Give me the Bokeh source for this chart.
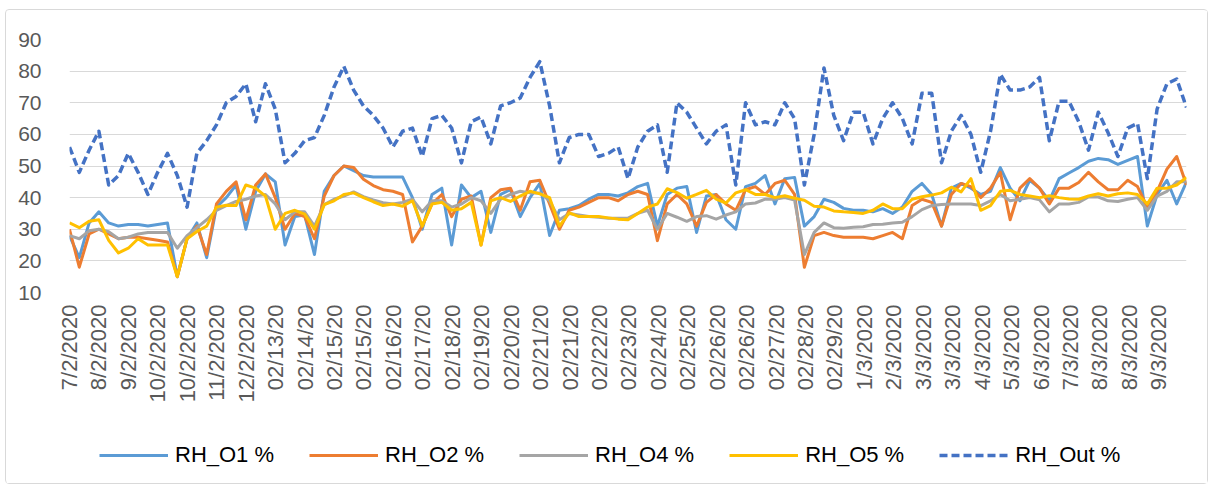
import math
import numpy as np
from bokeh.plotting import figure
from bokeh.layouts import column
from bokeh.models import FixedTicker, Legend, LegendItem, Range1d
from bokeh.embed import file_html
from bokeh.resources import INLINE

# x-axis category labels (one every N samples in the original workbook)
labels = ["7/2/2020", "8/2/2020", "9/2/2020", "10/2/2020", "10/2/2020", "11/2/2020",
          "12/2/2020", "02/13/20", "02/14/20", "02/15/20", "02/15/20", "02/16/20",
          "02/17/20", "02/18/20", "02/19/20", "02/20/20", "02/21/20", "02/21/20",
          "02/22/20", "02/23/20", "02/24/20", "02/25/20", "02/26/20", "02/26/20",
          "02/27/20", "02/28/20", "02/29/20", "1/3/2020", "2/3/2020", "3/3/2020",
          "3/3/2020", "4/3/2020", "5/3/2020", "6/3/2020", "7/3/2020", "8/3/2020",
          "8/3/2020", "9/3/2020"]

rh_o1 = [28, 21, 32, 35.5, 32, 31, 31.5, 31.5, 31, 31.5, 32, 15, 27, 32, 21, 37, 40, 44, 30, 42,
         47.5, 45, 25, 34, 34.5, 22, 42, 47, 50, 48.5, 47, 46.5, 46.5, 46.5, 46.5, 40, 30, 41, 43, 25,
         44, 40, 42, 29, 41, 42.5, 34, 40, 44.5, 28, 36, 36.5, 37.5, 39.5, 41, 41, 40.5, 41.5, 43.5, 44.5,
         31, 41, 43, 43.5, 29, 40.5, 41, 33, 30, 43.5, 44.5, 47, 38, 46, 46.4, 31, 34, 39.5, 38.5, 36.6,
         36, 36, 35.5, 36.5, 35, 37, 42, 44.5, 41, 31, 43, 44.5, 43, 41, 42, 49.5, 43, 39, 45.5, 43,
         39, 46, 47.8, 49.5, 51.5, 52.4, 52, 50.5, 51.8, 53, 31, 41, 45.5, 38, 45]

rh_o2 = [30, 18, 28.5, 30, 28.5, 27, 27.5, 27.5, 27, 26.5, 26, 15, 27, 31, 22, 38, 42, 45, 33, 44,
         47.5, 40, 30, 35, 34, 27, 40.5, 47, 50, 49.5, 45.8, 43.8, 42.5, 42, 41, 26, 31, 38, 41, 34,
         39.5, 40.5, 25, 40, 42.5, 43, 36, 45, 45.5, 38, 30, 36, 37, 38.5, 40, 40, 39, 41, 42, 41,
         26.4, 38, 41, 38, 31, 38.5, 41, 38, 36, 42.5, 43.5, 41, 44.5, 45.5, 41, 18, 28, 29, 28, 27.5,
         27.5, 27.5, 27, 28, 29, 27, 37.5, 39.5, 38.5, 31, 41, 44.5, 43.5, 40, 43, 48, 33, 43, 46, 43,
         38, 43, 43, 44.8, 48, 45, 42.5, 42.5, 45.5, 43.5, 37, 42, 49, 53, 44]

rh_o4 = [28, 27, 29.5, 30, 29.2, 27, 27.5, 28.5, 29, 29, 29, 24, 28, 30.5, 33, 36, 37.5, 38.8, 39.5, 40.5,
         41, 38, 33, 35.5, 35.5, 31, 37.8, 39.5, 40.5, 41.8, 40.3, 39.3, 38.4, 38, 38.5, 39.5, 35.5, 39, 39, 37,
         38, 40, 39, 35, 39.5, 41, 42, 41.5, 41.5, 39, 33, 35, 34.5, 34, 33.8, 33.5, 33.5, 33.5, 35, 36,
         30, 35, 33.8, 32.5, 34, 34.3, 33.2, 34.5, 35.5, 38, 38.3, 39.5, 39.5, 40, 39.2, 22, 29, 32, 30.5, 30.3,
         30.6, 30.8, 31.5, 31.6, 32, 32.2, 34, 36.2, 37.5, 37.8, 38, 38, 38, 37.5, 39, 41, 39, 39.5, 40, 39.3,
         35.5, 38, 38, 38.5, 40.2, 40.2, 39, 38.8, 39.5, 40, 36, 40.5, 42, 45, 45]

rh_o5 = [32, 30.5, 32.5, 33, 26.5, 22.5, 24, 27, 25, 25, 25, 15, 27, 29.3, 31, 37, 37.6, 37.5, 44, 43,
         40.5, 30, 35, 36, 34.8, 30, 37.8, 39, 41, 41.5, 40, 38.7, 37.5, 38, 37.3, 39, 31, 38, 38.5, 36,
         36.5, 38.5, 25, 39, 40, 38.8, 40.5, 42, 41.2, 40, 31, 35.2, 34, 34, 34, 33.6, 33.2, 33, 35, 37,
         38, 42.8, 41.6, 39.8, 41, 42.3, 39.5, 38.3, 41.5, 42.5, 41, 41, 40, 40.6, 39.8, 39.2, 37.3, 37, 35.8, 35.5,
         35.3, 35, 36, 38, 36.5, 36.5, 39.5, 40.3, 40.8, 41.5, 43.3, 41.8, 46, 36, 37.5, 42, 42.3, 41, 40.5, 40,
         40.6, 40, 39.6, 39.5, 40.5, 41.2, 40.5, 41.2, 41.5, 41, 38, 43, 43, 44, 46.4]

rh_out = [56, 48, 55, 61, 44, 47, 54, 48, 41, 48, 54, 47, 37, 54, 58, 63, 70, 72, 76, 64,
          76, 68, 51, 54, 58, 59, 66, 75, 81.5, 74, 69, 66, 62, 56, 61, 62, 53, 65, 66, 62,
          51, 64, 65.5, 57, 69, 70, 71.5, 78, 83, 69, 51, 59, 60, 60, 53, 54, 56, 46, 56, 61,
          63, 48, 70, 67, 62, 57, 61, 63, 44, 70, 63, 64, 63, 70, 65, 44, 60, 81, 66, 58,
          67, 67, 57, 65, 70, 65, 57, 73, 73, 51, 61, 66, 60, 48, 61, 79, 74, 74, 75, 78,
          58, 70.5, 70.5, 64, 55, 67, 60.5, 53, 62, 63.5, 46, 68, 76, 77.5, 68.5]

names = ["RH_O1 %", "RH_O2 %", "RH_O4 %", "RH_O5 %", "RH_Out %"]
colors = ["#5B9BD5", "#ED7D31", "#A5A5A5", "#FFC000", "#4472C4"]
series = [rh_o1, rh_o2, rh_o4, rh_o5, rh_out]

X_END = 37.94
n = len(rh_o1)
x = np.arange(n) * (X_END / (n - 1))

FONT = "Liberation Sans"
TXT = "#595959"
DASH = "8 4"

# outer chart box: left 5, top 9, 1px border
OX, OY = 6, 10
W = 1201
MH = 410
p = figure(width=W, height=MH, output_backend="svg", toolbar_location=None,
           x_range=Range1d(0, X_END), y_range=Range1d(10, 90),
           min_border_left=69 - OX, min_border_right=W - (1186 - OX), min_border_top=39 - OY,
           min_border_bottom=MH - (292 - OY))
p.outline_line_color = None
p.background_fill_color = "white"
p.border_fill_color = "white"

for ys, c, nm in zip(series, colors, names):
    if nm == "RH_Out %":
        p.line(x, ys, line_color=c, line_width=3.5, line_dash=DASH, line_join="round")
    else:
        p.line(x, ys, line_color=c, line_width=3, line_join="round")

# axes
p.yaxis.ticker = FixedTicker(ticks=list(range(10, 100, 10)))
p.yaxis.axis_line_color = None
p.yaxis.major_tick_line_color = None
p.yaxis.minor_tick_line_color = None
p.yaxis.major_label_standoff = 22
p.yaxis.major_label_text_font = FONT
p.yaxis.major_label_text_font_size = "21px"
p.yaxis.major_label_text_color = TXT

p.xaxis.ticker = FixedTicker(ticks=list(range(len(labels))))
p.xaxis.major_label_overrides = {i: lab for i, lab in enumerate(labels)}
p.xaxis.major_label_orientation = math.pi / 2
p.xaxis.axis_line_color = None
p.xaxis.major_tick_line_color = None
p.xaxis.minor_tick_line_color = None
p.xaxis.major_label_standoff = 6
p.xaxis.major_label_text_font = FONT
p.xaxis.major_label_text_font_size = "22px"
p.xaxis.major_label_text_color = TXT

p.xgrid.visible = False
p.ygrid.grid_line_color = "#D9D9D9"
p.ygrid.grid_line_width = 1

# legend strip below the chart (frame is aligned with the chart's frame)
LH = 63
lg = figure(width=W, height=LH, output_backend="svg", toolbar_location=None,
            x_axis_type=None, y_axis_type=None,
            x_range=Range1d(0, 1), y_range=Range1d(0, 1),
            min_border_left=0, min_border_right=0, min_border_top=0, min_border_bottom=0)
lg.grid.visible = False
lg.outline_line_color = None
lg.border_fill_color = "white"
lg.background_fill_color = "white"
items = []
for c, nm in zip(colors, names):
    if nm == "RH_Out %":
        r = lg.line([0.5], [np.nan], line_color=c, line_width=3.5, line_dash=DASH)
    else:
        r = lg.line([0.5], [np.nan], line_color=c, line_width=3)
    items.append(LegendItem(label=nm, renderers=[r]))
legend = Legend(items=items, orientation="horizontal", location=(30, 15),
                border_line_color=None, background_fill_alpha=0,
                glyph_width=69, glyph_height=20, label_standoff=7, spacing=35,
                label_text_font=FONT, label_text_font_size="22px",
                label_text_color="#000000", padding=4, margin=0)
lg.add_layout(legend)

layout = column(p, lg, spacing=0,
                styles={"border": "1px solid #D9D9D9", "border-radius": "4px",
                        "margin-left": "5px", "margin-top": "9px"})
open("out.html", "w").write(file_html(layout, INLINE))
